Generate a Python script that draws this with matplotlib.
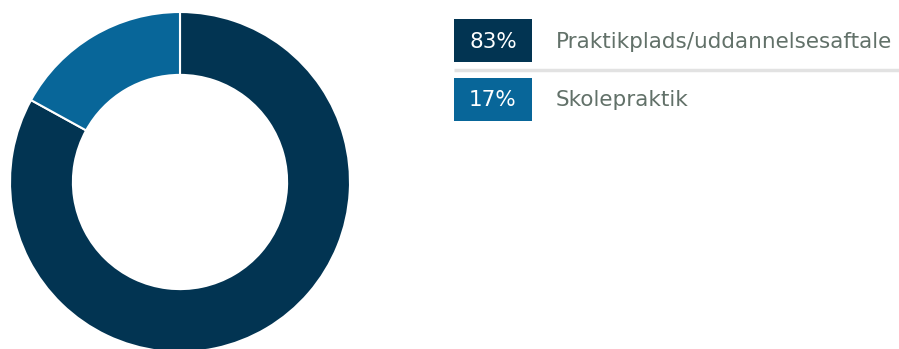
import matplotlib.pyplot as plt
from matplotlib.patches import Rectangle

labels = ["Praktikplads/uddannelsesaftale", "Skolepraktik"]
shares = [83, 17]
colors = ["#023452", "#086699"]
text_color = "#627169"

W, H = 899, 349
fig = plt.figure(figsize=(W / 100, H / 100), dpi=100)

# donut: centre at (180, 182) px, outer radius 170 px
cx, cy, r = 180, 182, 170
ax = fig.add_axes([(cx - r) / W, (H - cy - r) / H, 2 * r / W, 2 * r / H])
ax.pie(shares, colors=colors, startangle=90, counterclock=False, radius=1,
       wedgeprops=dict(width=0.37, edgecolor="white", linewidth=1.5))
ax.set_xlim(-1, 1)
ax.set_ylim(-1, 1)
ax.set_aspect("equal")
ax.axis("off")

# legend panel in pixel units
lg = fig.add_axes([0, 0, 1, 1])
lg.set_xlim(0, W)
lg.set_ylim(H, 0)
lg.axis("off")

row_top = 19
row_h = 43
row_gap = 59
for i, (lab, val, col) in enumerate(zip(labels, shares, colors)):
    y0 = row_top + i * row_gap
    lg.add_patch(Rectangle((454, y0), 78, row_h, facecolor=col, edgecolor="none"))
    lg.text(493, y0 + row_h / 2 + 1, f"{val}%", color="white", fontsize=15.5,
            ha="center", va="center", family="DejaVu Sans")
    lg.text(556, y0 + row_h / 2 + 1, lab, color=text_color, fontsize=15.5,
            ha="left", va="center", family="DejaVu Sans")
    if i < len(labels) - 1:
        lg.plot([454, W], [y0 + row_h + 8, y0 + row_h + 8], color="#e2e2e2", lw=2.5,
                solid_capstyle="butt")

fig.savefig("out.png", dpi=100)
